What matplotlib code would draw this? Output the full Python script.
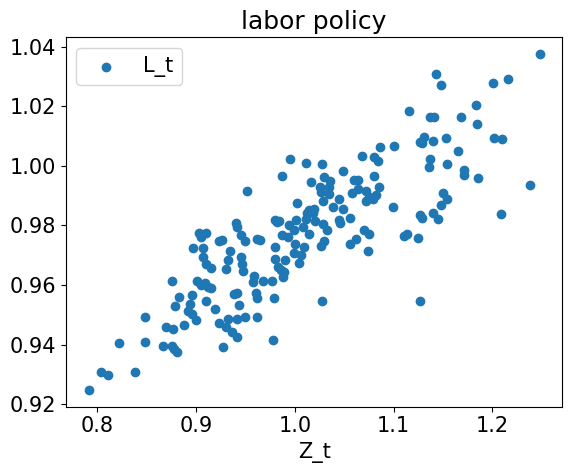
import numpy as np
import matplotlib
matplotlib.use("Agg")
import matplotlib.pyplot as plt

# значения Z_t и L_t
Z_t = [1.248, 1.143, 1.148, 1.201, 1.216, 1.116, 1.137, 1.141, 1.168, 1.183,
       1.184, 1.131, 1.127, 1.129, 1.140, 1.153, 1.202, 1.210, 1.165, 1.137,
       1.136, 1.154, 1.171, 1.171, 1.185, 1.238, 1.150, 1.154, 1.148, 1.127,
       1.129, 1.140, 1.145, 1.209, 1.110, 1.114, 1.125, 1.127, 1.100, 1.086,
       1.068, 1.080, 1.084, 0.995, 1.011, 1.027, 0.987, 1.049, 1.080, 1.029,
       1.036, 1.016, 1.025, 1.026, 1.035, 1.035, 1.060, 1.064, 1.058, 1.064,
       1.072, 1.085, 1.082, 1.075, 1.072, 1.079, 1.028, 1.045, 1.002, 1.039,
       1.049, 1.014, 1.019, 1.018, 1.099, 0.984, 0.994, 1.001, 0.999, 1.008,
       1.011, 1.020, 1.028, 1.032, 1.014, 1.045, 1.046, 1.056, 0.987, 0.993,
       1.070, 1.075, 1.062, 1.056, 1.029, 1.026, 1.000, 1.009, 0.999, 1.006,
       1.004, 1.074, 0.990, 0.986, 0.983, 0.989, 0.988, 1.027, 0.951, 1.012,
       0.980, 0.982, 0.940, 0.941, 0.903, 0.910, 0.905, 0.923, 0.926, 0.945,
       0.949, 0.962, 0.965, 0.897, 0.907, 0.934, 0.980, 0.907, 0.910, 0.915,
       0.932, 0.930, 0.945, 0.946, 0.947, 0.980, 0.959, 0.958, 0.968, 0.977,
       0.876, 0.901, 0.905, 0.909, 0.912, 0.915, 0.883, 0.879, 0.896, 0.894,
       0.892, 0.896, 0.900, 0.888, 0.910, 0.938, 0.941, 0.961, 0.962, 0.979,
       0.919, 0.943, 0.949, 0.941, 0.932, 0.923, 0.930, 0.936, 0.941, 0.962,
       0.877, 0.876, 0.878, 0.927, 0.978, 0.848, 0.869, 0.822, 0.848, 0.866,
       0.881, 0.804, 0.811, 0.838, 0.791]

L_t = [1.0375, 1.0308, 1.0270, 1.0277, 1.0291, 1.0184, 1.0163, 1.0163, 1.0163, 1.0203,
       1.0140, 1.0096, 1.0080, 1.0076, 1.0084, 1.0094, 1.0094, 1.0090, 1.0050, 1.0022,
       0.9997, 1.0006, 0.9986, 0.9969, 0.9959, 0.9936, 0.9908, 0.9888, 0.9869, 0.9835,
       0.9824, 0.9843, 0.9821, 0.9839, 0.9765, 0.9771, 0.9757, 0.9547, 1.0067, 1.0062,
       1.0033, 1.0031, 1.0017, 1.0022, 1.0009, 1.0006, 0.9966, 0.9982, 0.9966, 0.9962,
       0.9950, 0.9946, 0.9928, 0.9912, 0.9930, 0.9906, 0.9953, 0.9953, 0.9910, 0.9923,
       0.9917, 0.9928, 0.9901, 0.9897, 0.9881, 0.9888, 0.9883, 0.9888, 0.9876, 0.9861,
       0.9856, 0.9852, 0.9856, 0.9843, 0.9861, 0.9816, 0.9803, 0.9818, 0.9785, 0.9794,
       0.9821, 0.9814, 0.9805, 0.9785, 0.9771, 0.9818, 0.9809, 0.9825, 0.9769, 0.9760,
       0.9783, 0.9771, 0.9754, 0.9736, 0.9749, 0.9731, 0.9736, 0.9727, 0.9707, 0.9702,
       0.9673, 0.9715, 0.9684, 0.9651, 0.9662, 0.9644, 0.9626, 0.9546, 0.9915, 0.9842,
       0.9818, 0.9812, 0.9809, 0.9794, 0.9774, 0.9776, 0.9760, 0.9749, 0.9751, 0.9767,
       0.9747, 0.9756, 0.9751, 0.9724, 0.9724, 0.9715, 0.9727, 0.9693, 0.9671, 0.9657,
       0.9684, 0.9655, 0.9693, 0.9671, 0.9648, 0.9689, 0.9631, 0.9610, 0.9613, 0.9615,
       0.9613, 0.9613, 0.9601, 0.9606, 0.9593, 0.9590, 0.9561, 0.9530, 0.9566, 0.9537,
       0.9512, 0.9503, 0.9483, 0.9467, 0.9546, 0.9570, 0.9572, 0.9572, 0.9557, 0.9557,
       0.9519, 0.9532, 0.9494, 0.9485, 0.9485, 0.9472, 0.9458, 0.9443, 0.9425, 0.9494,
       0.9454, 0.9396, 0.9384, 0.9393, 0.9416, 0.9492, 0.9460, 0.9405, 0.9409, 0.9396,
       0.9375, 0.9308, 0.9299, 0.9308, 0.9248]

plt.rcParams['font.size'] = 15

fig = plt.figure(figsize=(5.72, 4.73), dpi=100)
ax = fig.add_axes([0.1154, 0.1402, 0.8677, 0.7809])

ax.scatter(Z_t, L_t, label='L_t')
ax.set_title('labor policy')
ax.set_xlabel('Z_t')
ax.legend(loc='upper left')

fig.savefig('out.png', dpi=100)
